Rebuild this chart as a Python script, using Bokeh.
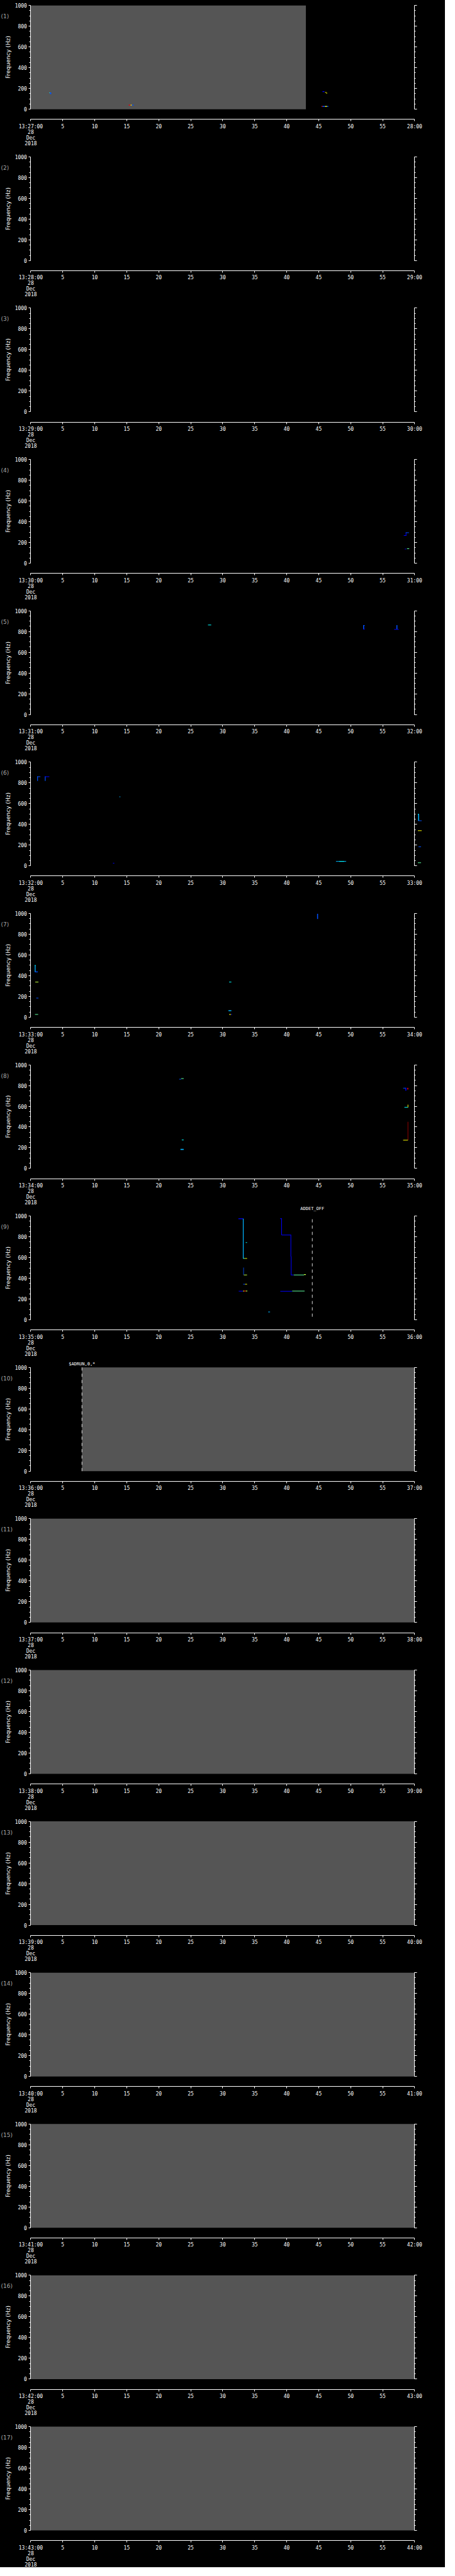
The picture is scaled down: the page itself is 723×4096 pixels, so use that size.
from bokeh.plotting import figure
from bokeh.layouts import column
from bokeh.models import ColumnDataSource, FixedTicker, LinearAxis, Range1d
from bokeh.embed import file_html
from bokeh.resources import INLINE
from bokeh.core.properties import value

# ---------------- data ----------------
panel_ids = list(range(1, 18))
panel_start_minute = [27, 28, 29, 30, 31, 32, 33, 34, 35, 36, 37, 38, 39, 40, 41, 42, 43]
hour = 13
date_day = "28"
date_month = "Dec"
date_year = "2018"
x_ticks = [0, 5, 10, 15, 20, 25, 30, 35, 40, 45, 50, 55, 60]
y_ticks = [0, 200, 400, 600, 800, 1000]
y_minor = [50, 100, 150, 250, 300, 350, 450, 500, 550, 650, 700, 750, 850, 900, 950]
y_label = "Frequency (Hz)"

# spans with no data (grey), seconds within the minute
gray_panel = [1, 10, 11, 12, 13, 14, 15, 16, 17]
gray_t0 = [0.0, 8.0, 0, 0, 0, 0, 0, 0, 0]
gray_t1 = [43.0, 60, 60, 60, 60, 60, 60, 60, 60]

# event markers (dashed) and their notes
dash_panel = [9, 10]
dash_t = [44.0, 8.0]
dash_f0 = [30, 0]
dash_f1 = [1000, 1000]
note_panel = [9, 10]
note_t = [44.0, 8.0]
note_f = [1071, 1032]
note_text = ["ADDET_OFF", "$ADRUN,0,*"]

# spectrogram pixels: panel, t0, t1 (s), f0, f1 (Hz), intensity level (0..10)
mk_panel = [1, 1, 1, 1, 1, 1, 1, 1, 1, 1, 1, 1,
            4, 4, 4, 4, 4,
            5, 5, 5, 5, 5, 5,
            6, 6, 6, 6, 6, 6, 6, 6, 6, 6, 6, 6, 6, 6,
            7, 7, 7, 7, 7, 7, 7, 7, 7, 7, 7,
            8, 8, 8, 8, 8, 8, 8, 8, 8, 8, 8,
            9, 9, 9, 9, 9, 9, 9, 9, 9, 9, 9, 9, 9, 9, 9,
            9, 9, 9, 9, 9, 9, 9, 9, 9]
mk_t0 = [3.0, 2.9, 15.3, 15.6, 15.8, 45.6, 46.0, 46.2, 45.45, 45.6, 46.0, 46.3,
         58.3, 58.6, 58.6, 58.8, 58.45,
         27.7, 51.95, 51.95, 51.95, 57.15, 56.8,
         1.0, 1.0, 2.2, 2.2, 13.85, 12.85, 47.7, 48.2,
         60.55, 60.55, 60.5, 60.5, 60.6, 60.5,
         44.75, 0.62, 0.62, 0.62, 0.7, 0.85, 0.66, 31.0, 30.9, 31.0, 31.3,
         23.2, 23.5, 23.6, 23.4, 58.2, 58.55, 58.85, 58.9, 58.4, 58.9, 58.2,
         32.45, 33.15, 33.6, 33.2, 33.5, 33.22, 33.3, 33.2, 33.5, 32.5, 33.2, 33.35, 33.6, 37.1, 38.97,
         39.15, 39.2, 40.6, 40.65, 40.7, 41.1, 42.7, 39.0, 40.86]
mk_t1 = [3.2, 3.0, 15.6, 15.8, 16.1, 45.9, 46.2, 46.3, 45.6, 46.0, 46.3, 46.5,
         58.7, 58.7, 59.1, 59.15, 58.7,
         28.2, 52.1, 52.2, 52.2, 57.3, 57.5,
         1.12, 1.5, 2.32, 2.9, 14.0, 13.05, 49.3, 49.0,
         60.7, 61.1, 60.6, 61.1, 61.0, 61.0,
         44.9, 0.75, 1.1, 0.75, 1.2, 1.2, 1.15, 31.35, 31.35, 31.3, 31.45,
         23.5, 23.9, 23.9, 23.9, 58.65, 58.7, 59.0, 59.0, 58.95, 59.0, 58.95,
         33.2, 33.27, 33.8, 33.5, 33.8, 33.3, 33.8, 33.5, 33.8, 33.2, 33.35, 33.6, 33.85, 37.4, 39.2,
         39.25, 40.65, 40.7, 40.75, 41.1, 42.7, 43.0, 40.86, 42.8]
mk_f0 = [145, 155, 36, 36, 36, 166, 158, 150, 23, 23, 23, 23,
         264, 264, 291, 137, 134,
         860, 822, 856, 820, 822, 818,
         818, 856, 818, 856, 663, 23, 40, 40,
         435, 432, 494, 336, 181, 27,
         947, 437, 433, 495, 336, 181, 23, 336, 58, 23, 23,
         858, 864, 272, 179, 771, 750, 762, 589, 586, 273, 270,
         971, 591, 741, 588, 588, 433, 430, 340, 340, 273, 274, 274, 274, 73, 972,
         818, 815, 610, 430, 430, 430, 432, 272, 274]
mk_f1 = [162, 162, 44, 44, 44, 174, 164, 160, 31, 31, 31, 31,
         270, 296, 297, 143, 139,
         866, 860, 862, 826, 862, 824,
         862, 863, 862, 863, 669, 29, 46, 46,
         500, 438, 501, 342, 187, 33,
         997, 501, 440, 502, 342, 187, 29, 342, 67, 29, 29,
         864, 870, 278, 189, 777, 777, 777, 615, 592, 450, 276,
         978, 975, 747, 594, 594, 504, 436, 346, 346, 279, 281, 281, 281, 79, 978,
         978, 821, 821, 612, 436, 436, 440, 278, 280]
mk_level = [2, 4, 9, 7, 2, 1, 7, 7, 9, 2, 7, 2,
            1, 1, 2, 5, 1,
            4, 2, 2, 1, 2, 1,
            2, 2, 2, 1, 3, 1, 3, 4,
            3, 2, 4, 7, 2, 5,
            2, 3, 2, 4, 6, 2, 5, 4, 3, 7, 1,
            2, 5, 4, 3, 2, 1, 9, 7, 4, 10, 7,
            1, 3, 4, 5, 7, 2, 6, 2, 7, 1, 7, 9, 6, 3, 1,
            1, 1, 1, 1, 1, 5, 6, 1, 5]

# ---------------- style / layout ----------------
JET = ["#000090", "#0000ff", "#0050ff", "#00b4ff", "#00ffff", "#60ffa0",
       "#c0ff40", "#ffff00", "#ff8000", "#ff0000", "#900000"]
FONT = "DejaVu Sans Mono"
WIDTH = 707
PERIOD = 341.3 * 0.705          # page height of one panel
PX_S = 610.0 / 60.0             # pixels per second
X0 = 48.4                       # x of t=0 inside each figure
PX_HZ = 0.705 * 234 / 1000.0    # pixels per Hz
FRAME_TOP = 16.2                # y of 1000 Hz below panel top
AXIS_GAP_HZ = 98.0              # time axis sits below the 0 Hz line
NUM_X = (1.0 - X0) / PX_S       # left edge of the panel number

figs = []
for i, pid in enumerate(panel_ids):
    page_top = 8 if i == 0 else round(PERIOD * i)
    h = round(PERIOD * (i + 1)) - page_top
    y1000 = FRAME_TOP + PERIOD * i - page_top
    y_hi = 1000 + y1000 / PX_HZ
    y_lo = 1000 - (h - y1000) / PX_HZ
    p = figure(width=WIDTH, height=h, output_backend="svg", toolbar_location=None,
               x_range=Range1d(-X0 / PX_S, (WIDTH - X0) / PX_S),
               y_range=Range1d(y_lo, y_hi),
               x_axis_location=None, y_axis_location=None,
               min_border=0,
               background_fill_color="black", border_fill_color="black",
               outline_line_color=None)
    p.xgrid.visible = False
    p.ygrid.visible = False

    # grey no-data spans
    g = [k for k, gp in enumerate(gray_panel) if gp == pid]
    if g:
        p.quad(left=[gray_t0[k] for k in g], right=[gray_t1[k] for k in g],
               bottom=0, top=1000, fill_color="#555555", line_color=None)

    # spectrogram pixels
    m = [k for k, mp in enumerate(mk_panel) if mp == pid]
    if m:
        src = ColumnDataSource(dict(
            l=[mk_t0[k] for k in m], r=[mk_t1[k] for k in m],
            b=[mk_f0[k] for k in m], t=[mk_f1[k] for k in m],
            c=[JET[mk_level[k]] for k in m]))
        p.quad(left="l", right="r", bottom="b", top="t", fill_color="c",
               line_color=None, source=src)

    # dashed markers and notes
    for k in [k for k, dp in enumerate(dash_panel) if dp == pid]:
        p.segment(x0=[dash_t[k]], y0=[dash_f0[k]], x1=[dash_t[k]], y1=[dash_f1[k]],
                  line_color="#e0e0e0", line_width=1, line_dash="5 5")
    nk = [k for k, np_ in enumerate(note_panel) if np_ == pid]
    if nk:
        p.text(x=[note_t[k] for k in nk], y=[note_f[k] for k in nk],
               text=[note_text[k] for k in nk], text_color="white",
               text_font=value(FONT), text_font_size=value("7px"),
               text_align="center", text_baseline="middle")

    # panel number
    p.text(x=[NUM_X], y=[894], text=[f"({pid})"], text_color="#a8a8a8",
           text_font=value("DejaVu Sans"), text_font_size=value("9px"),
           text_align="left", text_baseline="middle")

    # axes (fixed inside the frame)
    minute = panel_start_minute[pid - 1]
    labels = {t: str(t) for t in x_ticks}
    labels[0] = f"{hour}:{minute:02d}:00\n{date_day}\n{date_month}\n{date_year}"
    labels[60] = f"{minute + 1:02d}:00"
    xa = LinearAxis(ticker=FixedTicker(ticks=x_ticks), bounds=(0, 60),
                    fixed_location=-AXIS_GAP_HZ,
                    major_label_overrides=labels,
                    axis_line_color="white", major_tick_line_color="white",
                    minor_tick_line_color=None,
                    major_tick_in=0, major_tick_out=3, major_label_standoff=4,
                    major_label_text_color="white",
                    major_label_text_font=FONT,
                    major_label_text_font_size="8px",
                    major_label_text_line_height=1.0)
    p.add_layout(xa, "below")

    ya = LinearAxis(ticker=FixedTicker(ticks=y_ticks, minor_ticks=y_minor),
                    bounds=(0, 1000), fixed_location=0,
                    axis_line_color="white", major_tick_line_color="white",
                    minor_tick_line_color="white",
                    major_tick_in=0, major_tick_out=3, minor_tick_in=0, minor_tick_out=2,
                    major_label_standoff=3,
                    major_label_text_color="white",
                    major_label_text_font=FONT,
                    major_label_text_font_size="8px",
                    axis_label=y_label, axis_label_standoff=2,
                    axis_label_text_color="white",
                    axis_label_text_font="DejaVu Sans",
                    axis_label_text_font_style="normal",
                    axis_label_text_font_size="9px")
    p.add_layout(ya, "left")

    yr = LinearAxis(ticker=FixedTicker(ticks=y_ticks, minor_ticks=y_minor),
                    bounds=(0, 1000), fixed_location=60,
                    axis_line_color="white", major_tick_line_color="white",
                    minor_tick_line_color="white",
                    major_tick_in=0, major_tick_out=4, minor_tick_in=0, minor_tick_out=2,
                    major_label_text_font_size="0px",
                    major_label_text_alpha=0)
    p.add_layout(yr, "right")
    figs.append(p)

layout = column(*figs, spacing=0, background="black")
open("out.html", "w").write(file_html(layout, INLINE))
